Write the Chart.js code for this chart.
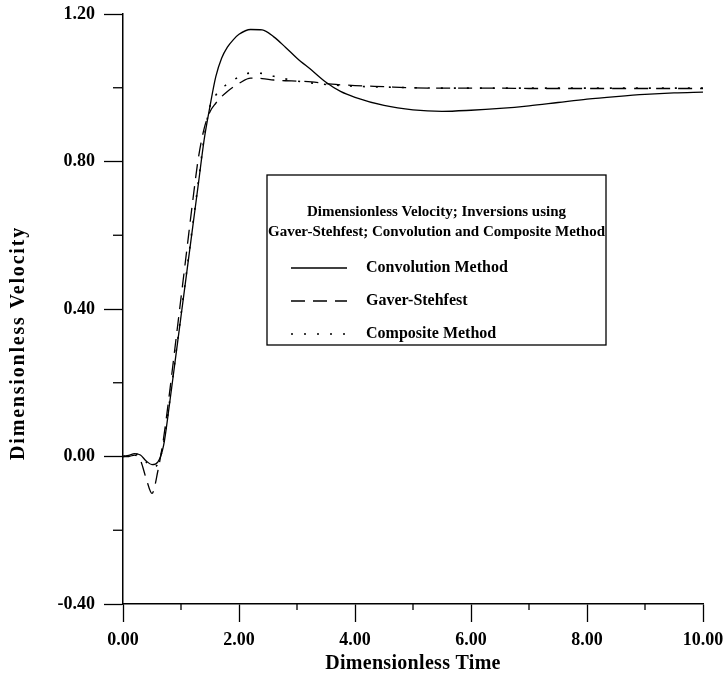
<!DOCTYPE html>
<html>
<head>
<meta charset="utf-8">
<script src="https://cdn.jsdelivr.net/npm/chart.js@4/dist/chart.umd.min.js"></script>
<style>
  html, body { margin: 0; padding: 0; background: #fff; }
  #wrap { width: 724px; height: 677px; }
</style>
</head>
<body>
<div id="wrap"><canvas id="velocityChart" width="724" height="677"></canvas></div>
<script>
// dimensionless time grid
const timeValues = [0, 0.1, 0.2, 0.3, 0.4, 0.5, 0.6, 0.7, 0.8, 0.9, 1.0, 1.1, 1.2, 1.3, 1.4, 1.5, 1.6, 1.7, 1.8, 1.9,
  2.0, 2.2, 2.4, 2.6, 2.8, 3.0, 3.25, 3.5, 3.75, 4.0, 4.5, 5.0, 5.5, 6.0, 6.5, 7.0, 7.5, 8.0, 8.5, 9.0, 9.5, 10.0];

const convolution = [0, 0.003, 0.008, 0.004, -0.012, -0.022, -0.015, 0.03, 0.14, 0.26,
  0.38, 0.50, 0.62, 0.74, 0.86, 0.95, 1.03, 1.08, 1.11, 1.13,
  1.145, 1.158, 1.157, 1.138, 1.11, 1.08, 1.048, 1.015, 0.99, 0.974,
  0.952, 0.94, 0.936, 0.939, 0.944, 0.951, 0.96, 0.969, 0.976, 0.982, 0.986, 0.988];

const gaverStehfest = [0, 0.0, 0.004, -0.01, -0.06, -0.10, -0.04, 0.05, 0.17, 0.30,
  0.43, 0.56, 0.69, 0.81, 0.89, 0.935, 0.958, 0.976, 0.99, 1.002,
  1.012, 1.026, 1.025, 1.021, 1.019, 1.018, 1.016, 1.011, 1.008, 1.006,
  1.003, 1.0, 0.999, 0.999, 0.999, 0.998, 0.998, 0.998, 0.998, 0.998, 0.998, 0.998];

const composite = [0, 0.003, 0.007, 0.002, -0.015, -0.03, -0.02, 0.035, 0.145, 0.265,
  0.385, 0.505, 0.625, 0.745, 0.865, 0.95, 0.98, 0.998, 1.01, 1.02,
  1.03, 1.04, 1.039, 1.031, 1.024, 1.018, 1.013, 1.009, 1.006, 1.004,
  1.002, 1.0, 0.999, 0.999, 0.999, 0.999, 0.999, 0.999, 0.999, 0.999, 0.999, 0.999];

const seriesNames = ["Convolution Method", "Gaver-Stehfest", "Composite Method"];
const legendTitle = ["Dimensionless Velocity; Inversions using", "Gaver-Stehfest; Convolution and Composite Method"];
const xTitle = "Dimensionless Time";
const yTitle = "Dimensionless Velocity";

const serif = "'Liberation Serif', 'Times New Roman', serif";
const dashes = [[], [14, 8], [2, 11]];

function toPoints(values) {
  return values.map((v, i) => ({ x: timeValues[i], y: v }));
}

// minor ticks, axis titles and the boxed legend
const extrasPlugin = {
  id: "extras",
  afterDraw(chart) {
    const ctx = chart.ctx;
    const xs = chart.scales.x;
    const ys = chart.scales.y;
    const area = chart.chartArea;
    ctx.save();
    ctx.strokeStyle = "#000";
    ctx.lineWidth = 1.3;
    // minor ticks
    for (let t = 1; t < 10; t += 2) {
      const px = xs.getPixelForValue(t);
      ctx.beginPath();
      ctx.moveTo(px, area.bottom);
      ctx.lineTo(px, area.bottom + 6);
      ctx.stroke();
    }
    [-0.2, 0.2, 0.6, 1.0].forEach(v => {
      const py = ys.getPixelForValue(v);
      ctx.beginPath();
      ctx.moveTo(area.left - 10, py);
      ctx.lineTo(area.left, py);
      ctx.stroke();
    });

    // axis titles
    ctx.fillStyle = "#000";
    ctx.font = "bold 20px " + serif;
    ctx.textAlign = "center";
    ctx.textBaseline = "middle";
    ctx.letterSpacing = "0.3px";
    ctx.fillText(xTitle, 413, 664);
    ctx.save();
    ctx.letterSpacing = "1.8px";
    ctx.translate(19, 343);
    ctx.rotate(-Math.PI / 2);
    ctx.fillText(yTitle, 0, 0);
    ctx.restore();
    ctx.letterSpacing = "0px";

    // legend box
    const bx = 267, by = 175, bw = 339, bh = 170;
    ctx.fillStyle = "#fff";
    ctx.fillRect(bx, by, bw, bh);
    ctx.lineWidth = 1.3;
    ctx.strokeRect(bx, by, bw, bh);
    ctx.fillStyle = "#000";
    ctx.font = "bold 15px " + serif;
    ctx.fillText(legendTitle[0], bx + bw / 2, 212);
    ctx.fillText(legendTitle[1], bx + bw / 2, 232);
    ctx.textAlign = "left";
    ctx.font = "bold 16px " + serif;
    const rows = [268, 301, 334];
    rows.forEach((ry, i) => {
      ctx.beginPath();
      ctx.setLineDash(dashes[i]);
      ctx.lineWidth = i === 2 ? 1.6 : 1.3;
      ctx.moveTo(291, ry);
      ctx.lineTo(347, ry);
      ctx.stroke();
      ctx.setLineDash([]);
      ctx.fillText(seriesNames[i], 366, ry);
    });
    ctx.restore();
  }
};

const chartCanvas = document.getElementById("velocityChart");

new Chart(chartCanvas, {
  type: "line",
  data: {
    datasets: [convolution, gaverStehfest, composite].map((vals, i) => ({
      label: seriesNames[i],
      data: toPoints(vals),
      borderColor: "#000",
      borderWidth: i === 2 ? 1.6 : 1.3,
      borderDash: dashes[i],
      pointRadius: 0,
      fill: false,
      cubicInterpolationMode: "monotone"
    }))
  },
  options: {
    responsive: false,
    animation: false,
    layout: { padding: { top: 14, right: 21, left: 0, bottom: 0 } },
    plugins: {
      legend: { display: false },
      tooltip: { enabled: false }
    },
    scales: {
      x: {
        type: "linear",
        min: 0,
        max: 10,
        afterFit: (scale) => { scale.height = 73; scale.paddingLeft = 0; scale.paddingRight = 0; },
        ticks: {
          stepSize: 1,
          maxRotation: 0,
          autoSkip: false,
          padding: 8,
          color: "#000",
          font: { family: serif, size: 18, weight: "bold" },
          callback: (v) => (Math.round(v) % 2 === 0 ? v.toFixed(2) : "")
        },
        grid: {
          drawOnChartArea: false,
          tickLength: 18,
          tickWidth: 1.3,
          tickColor: (c) => (c.tick && Math.round(c.tick.value) % 2 === 0 ? "#000" : "rgba(0,0,0,0)")
        },
        border: { color: "#000", width: 1.5 }
      },
      y: {
        min: -0.4,
        max: 1.2,
        afterFit: (scale) => { scale.width = 123; scale.paddingTop = 0; scale.paddingBottom = 0; },
        ticks: {
          stepSize: 0.2,
          autoSkip: false,
          padding: 9,
          color: "#000",
          font: { family: serif, size: 18, weight: "bold" },
          callback: (v) => (Math.round(v * 5) % 2 === 0 ? (Math.round(v * 100) / 100).toFixed(2) : "")
        },
        grid: {
          drawOnChartArea: false,
          tickLength: 19,
          tickWidth: 1.3,
          tickColor: (c) => (c.tick && Math.round(c.tick.value * 5) % 2 === 0 ? "#000" : "rgba(0,0,0,0)")
        },
        border: { color: "#000", width: 1.5 }
      }
    }
  },
  plugins: [extrasPlugin]
});
</script>
</body>
</html>
